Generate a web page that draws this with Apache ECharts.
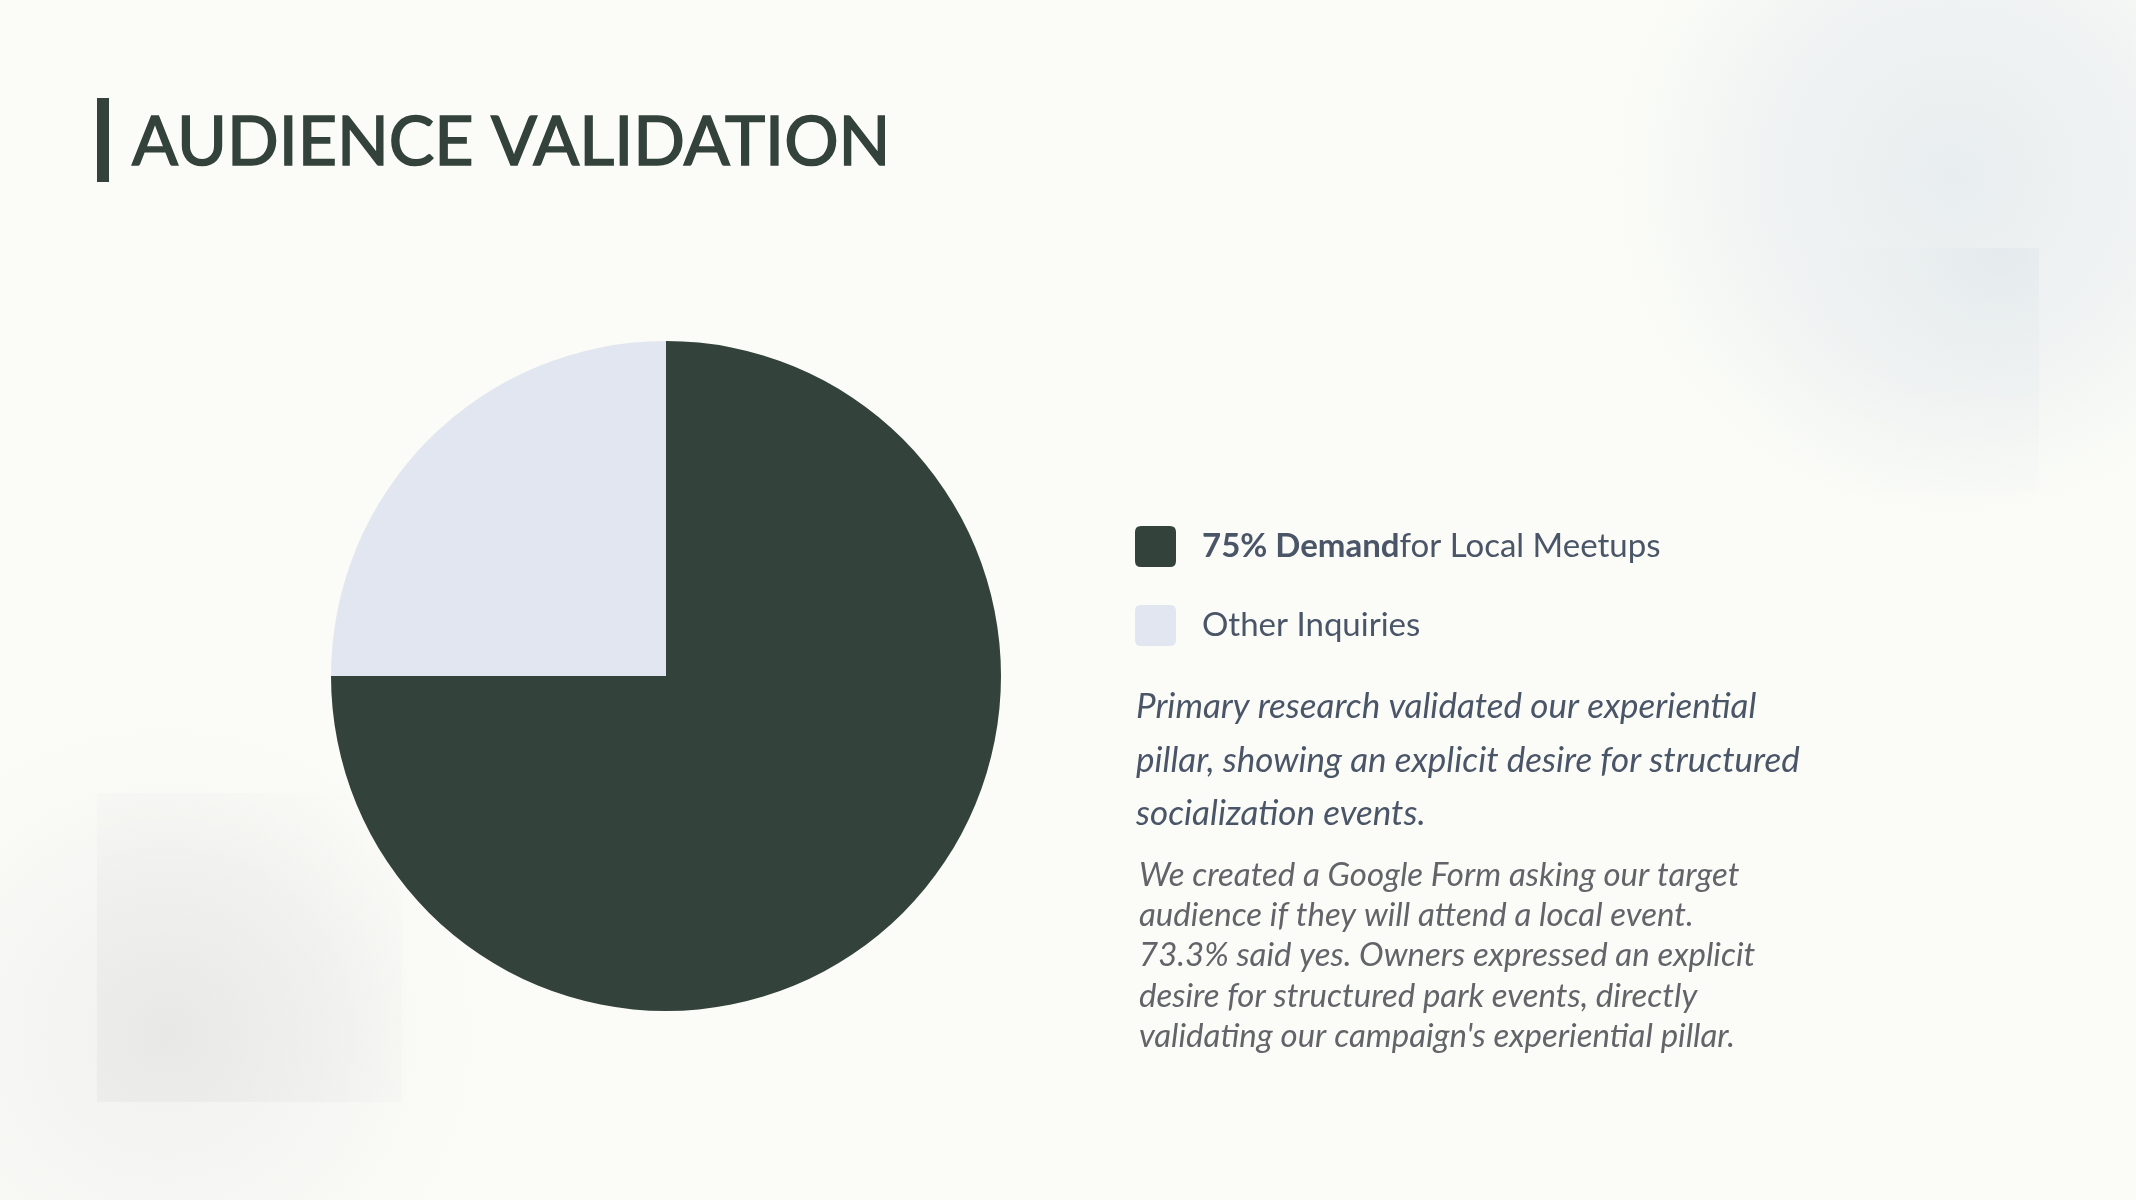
<!DOCTYPE html>
<html>
<head>
<meta charset="utf-8">
<script src="https://cdn.jsdelivr.net/npm/echarts@6/dist/echarts.min.js"></script>
<style>
  html, body { margin: 0; padding: 0; background: #FBFCF7; }
  #chart { width: 2136px; height: 1200px; }
</style>
</head>
<body>
<div id="chart"></div>
<script>
// ---- data ----
const sliceNames = ['75% Demand for Local Meetups', 'Other Inquiries'];
const sliceValues = [75, 25];
const legendBold = ['75% Demand', ''];
const legendRest = ['for Local Meetups', 'Other Inquiries'];
const titleText = 'AUDIENCE VALIDATION';
const noteLines = [
  'Primary research validated our experiential',
  'pillar, showing an explicit desire for structured',
  'socialization events.'
];
const detailLines = [
  'We created a Google Form asking our target',
  'audience if they will attend a local event.',
  '73.3% said yes. Owners expressed an explicit',
  'desire for structured park events, directly',
  "validating our campaign's experiential pillar."
];

const DARK = '#33423A';
const LIGHT = '#E2E6F0';
const SLATE = '#4A5568';

const chart = echarts.init(document.getElementById('chart'), null, { renderer: 'canvas' });

const option = {
  backgroundColor: '#FBFCF7',
  animation: false,
  title: {
    text: titleText,
    left: 132,
    top: 109,
    padding: 0,
    textStyle: {
      fontFamily: 'Lato',
      fontSize: 68,
      fontWeight: 'normal',
      color: DARK,
      textBorderColor: DARK,
      textBorderWidth: 1.6
    }
  },
  legend: {
    orient: 'vertical',
    left: 1135,
    top: 526,
    padding: 0,
    itemWidth: 41,
    itemHeight: 41,
    itemGap: 38,
    icon: 'path://M6,0H35Q41,0 41,6V35Q41,41 35,41H6Q0,41 0,35V6Q0,0 6,0Z',
    selectedMode: false,
    data: sliceNames,
    formatter: function (name) {
      const i = sliceNames.indexOf(name);
      return (legendBold[i] ? '{b|' + legendBold[i] + '}' : '') + '{r|' + legendRest[i] + '}';
    },
    textStyle: {
      padding: [0, 0, 0, 21],
      rich: {
        b: { fontFamily: 'Lato', fontSize: 33, fontWeight: 'bold', color: SLATE },
        r: { fontFamily: 'Lato', fontSize: 33, fontWeight: 'normal', color: SLATE }
      }
    }
  },
  graphic: [
    // soft background blobs
    {
      type: 'circle', z: -10, silent: true,
      shape: { cx: 1955, cy: 175, r: 345 },
      style: {
        fill: {
          type: 'radial', x: 0.5, y: 0.5, r: 0.5,
          colorStops: [
            { offset: 0, color: 'rgba(232,237,239,1)' },
            { offset: 0.6, color: 'rgba(236,240,241,0.7)' },
            { offset: 1, color: 'rgba(240,243,243,0)' }
          ]
        }
      }
    },
    {
      type: 'rect', z: -9, silent: true,
      shape: { x: 1660, y: 248, width: 379, height: 245 },
      style: {
        fill: {
          type: 'radial', x: 0.9, y: 0.0, r: 1.2,
          colorStops: [
            { offset: 0, color: 'rgba(228,234,237,1)' },
            { offset: 0.5, color: 'rgba(236,240,240,0.55)' },
            { offset: 1, color: 'rgba(245,246,245,0)' }
          ]
        }
      }
    },
    {
      type: 'circle', z: -10, silent: true,
      shape: { cx: 165, cy: 1035, r: 330 },
      style: {
        fill: {
          type: 'radial', x: 0.5, y: 0.5, r: 0.5,
          colorStops: [
            { offset: 0, color: 'rgba(240,241,238,1)' },
            { offset: 0.6, color: 'rgba(244,245,242,0.6)' },
            { offset: 1, color: 'rgba(248,249,245,0)' }
          ]
        }
      }
    },
    {
      type: 'rect', z: -9, silent: true,
      shape: { x: 97, y: 793, width: 305, height: 309 },
      style: {
        fill: {
          type: 'radial', x: 0.23, y: 0.78, r: 1.1,
          colorStops: [
            { offset: 0, color: 'rgba(232,233,230,1)' },
            { offset: 0.5, color: 'rgba(238,239,236,0.7)' },
            { offset: 1, color: 'rgba(248,249,245,0)' }
          ]
        }
      }
    },
    // title accent bar
    {
      type: 'rect', silent: true,
      shape: { x: 97, y: 98, width: 12, height: 84 },
      style: { fill: DARK }
    },
    // paragraph 1 (italic, slate)
    {
      type: 'text', silent: true,
      style: {
        x: 1136, y: 680,
        text: noteLines.join('\n'),
        font: 'italic 35px Lato',
        lineHeight: 53.5,
        fill: SLATE,
        textVerticalAlign: 'top'
      }
    },
    // paragraph 2 (italic, gray)
    {
      type: 'text', silent: true,
      style: {
        x: 1139, y: 855,
        text: detailLines.join('\n'),
        font: 'italic 33px Lato',
        lineHeight: 40.3,
        fill: '#626469',
        textVerticalAlign: 'top'
      }
    }
  ],
  series: [
    {
      type: 'pie',
      center: [666, 676],
      radius: 335,
      startAngle: 90,
      clockwise: true,
      silent: true,
      label: { show: false },
      labelLine: { show: false },
      emphasis: { disabled: true },
      itemStyle: { borderWidth: 0 },
      data: sliceNames.map(function (n, i) {
        return { name: n, value: sliceValues[i], itemStyle: { color: i === 0 ? DARK : LIGHT } };
      })
    }
  ]
};

chart.setOption(option);
</script>
</body>
</html>
